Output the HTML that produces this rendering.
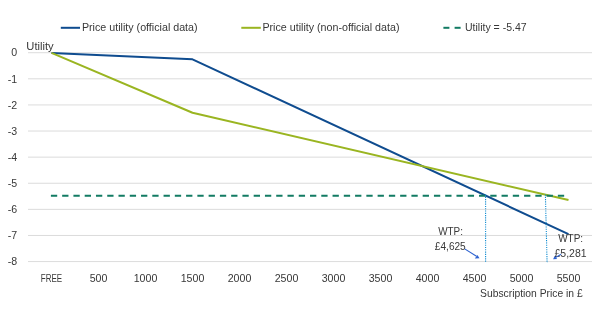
<!DOCTYPE html>
<html><head><meta charset="utf-8"><style>
html,body{margin:0;padding:0;background:#fff;width:600px;height:310px;overflow:hidden}
svg{display:block;will-change:transform}
text{font-family:"Liberation Sans",sans-serif;fill:#383838}
</style></head><body>
<svg width="600" height="310" viewBox="0 0 600 310">
<rect width="600" height="310" fill="#fff"/>
<rect x="28" y="52.20" width="564" height="1" fill="#dcdcdc"/>
<rect x="28" y="78.31" width="564" height="1" fill="#dcdcdc"/>
<rect x="28" y="104.42" width="564" height="1" fill="#dcdcdc"/>
<rect x="28" y="130.53" width="564" height="1" fill="#dcdcdc"/>
<rect x="28" y="156.64" width="564" height="1" fill="#dcdcdc"/>
<rect x="28" y="182.75" width="564" height="1" fill="#dcdcdc"/>
<rect x="28" y="208.86" width="564" height="1" fill="#dcdcdc"/>
<rect x="28" y="234.97" width="564" height="1" fill="#dcdcdc"/>
<rect x="28" y="261.08" width="564" height="1" fill="#dcdcdc"/>
<text x="17.1" y="56.40" font-size="10.6" text-anchor="end">0</text>
<text x="17.1" y="82.50" font-size="10.6" text-anchor="end">-1</text>
<text x="17.1" y="108.60" font-size="10.6" text-anchor="end">-2</text>
<text x="17.1" y="134.70" font-size="10.6" text-anchor="end">-3</text>
<text x="17.1" y="160.80" font-size="10.6" text-anchor="end">-4</text>
<text x="17.1" y="186.90" font-size="10.6" text-anchor="end">-5</text>
<text x="17.1" y="213.00" font-size="10.6" text-anchor="end">-6</text>
<text x="17.1" y="239.10" font-size="10.6" text-anchor="end">-7</text>
<text x="17.1" y="265.20" font-size="10.6" text-anchor="end">-8</text>
<text x="40.80" y="281.6" font-size="10.6" textLength="21.36" lengthAdjust="spacingAndGlyphs">FREE</text>
<text x="98.50" y="281.6" font-size="10.6" text-anchor="middle">500</text>
<text x="145.50" y="281.6" font-size="10.6" text-anchor="middle">1000</text>
<text x="192.50" y="281.6" font-size="10.6" text-anchor="middle">1500</text>
<text x="239.50" y="281.6" font-size="10.6" text-anchor="middle">2000</text>
<text x="286.50" y="281.6" font-size="10.6" text-anchor="middle">2500</text>
<text x="333.50" y="281.6" font-size="10.6" text-anchor="middle">3000</text>
<text x="380.50" y="281.6" font-size="10.6" text-anchor="middle">3500</text>
<text x="427.50" y="281.6" font-size="10.6" text-anchor="middle">4000</text>
<text x="474.50" y="281.6" font-size="10.6" text-anchor="middle">4500</text>
<text x="521.50" y="281.6" font-size="10.6" text-anchor="middle">5000</text>
<text x="568.50" y="281.6" font-size="10.6" text-anchor="middle">5500</text>
<polyline points="51.50,52.90 192.50,59.29 568.50,234.16" fill="none" stroke="#0f4c8f" stroke-width="2" stroke-linejoin="round" stroke-linecap="butt"/>
<polyline points="51.50,52.90 192.50,112.79 568.50,199.97" fill="none" stroke="#9ab521" stroke-width="2" stroke-linejoin="round" stroke-linecap="butt"/>
<line x1="50.9" y1="195.7" x2="564.4" y2="195.7" stroke="#127b63" stroke-width="2" stroke-dasharray="6.3 4.966"/>
<line x1="485.6" y1="194.5" x2="485.6" y2="262.2" stroke="#0e8bd0" stroke-width="1.1" stroke-dasharray="1.14 1.14"/>
<line x1="545.4" y1="194.5" x2="547.1" y2="262.9" stroke="#0e8bd0" stroke-width="1.1" stroke-dasharray="1.14 1.14"/>
<rect x="60.8" y="26.8" width="19.2" height="2" fill="#0f4c8f"/>
<text x="81.91" y="31.2" font-size="10.6" textLength="115.71" lengthAdjust="spacingAndGlyphs">Price utility (official data)</text>
<rect x="241.3" y="26.8" width="19.5" height="2" fill="#9ab521"/>
<text x="262.41" y="31.2" font-size="10.6" textLength="137.07" lengthAdjust="spacingAndGlyphs">Price utility (non-official data)</text>
<rect x="443.4" y="26.8" width="6" height="2" fill="#127b63"/>
<rect x="454.6" y="26.8" width="6" height="2" fill="#127b63"/>
<text x="465.00" y="31.3" font-size="10.6" textLength="61.66" lengthAdjust="spacingAndGlyphs">Utility = -5.47</text>
<text x="26.35" y="49.8" font-size="10.6" textLength="27.35" lengthAdjust="spacingAndGlyphs">Utility</text>
<text x="480.02" y="296.8" font-size="10.6" textLength="102.71" lengthAdjust="spacingAndGlyphs">Subscription Price in £</text>
<text x="438.15" y="234.8" font-size="10.6" textLength="24.80" lengthAdjust="spacingAndGlyphs">WTP:</text>
<text x="434.87" y="249.8" font-size="10.6" textLength="30.87" lengthAdjust="spacingAndGlyphs">£4,625</text>
<text x="558.16" y="242.0" font-size="10.6" textLength="24.96" lengthAdjust="spacingAndGlyphs">WTP:</text>
<text x="554.50" y="257.0" font-size="10.6" textLength="32.10" lengthAdjust="spacingAndGlyphs">£5,281</text>
<line x1="464.7" y1="248.9" x2="476.5" y2="256.3" stroke="#2d62d0" stroke-width="1.1"/>
<polygon points="479.5,258.3 474.8,258.4 477.4,254.9" fill="#2d62d0"/>
<line x1="561.1" y1="254.1" x2="555.5" y2="257.6" stroke="#2d62d0" stroke-width="1.1"/>
<polygon points="553.1,259.2 554.6,255.9 557.2,258.9" fill="#2d62d0"/>
</svg></body></html>
